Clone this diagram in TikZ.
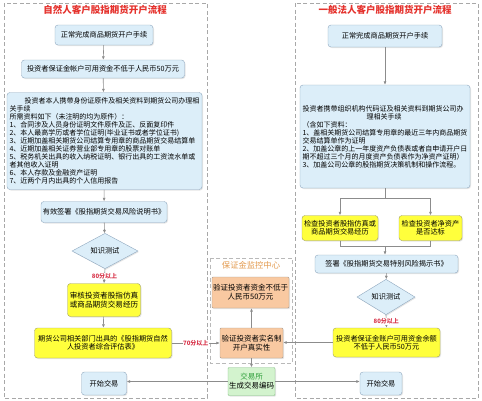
\documentclass[tikz,border=0pt]{standalone}
\usepackage{fontspec}
\setmainfont{Noto Sans CJK SC}
\usetikzlibrary{arrows.meta, shapes.geometric, shadows}

\definecolor{titlered}{HTML}{E5322D}
\definecolor{scorered}{HTML}{D8344A}
\definecolor{monorange}{HTML}{E39A4E}
\definecolor{bluefill}{HTML}{DCEEF9}
\definecolor{blueline}{HTML}{8FA8BF}
\definecolor{yellowfill}{HTML}{FFFF3C}
\definecolor{yellowline}{HTML}{A0A060}
\definecolor{orangefill}{HTML}{F9C9A1}
\definecolor{orangeline}{HTML}{A89A8C}
\definecolor{greenfill}{HTML}{D3F3CE}
\definecolor{greenline}{HTML}{86C086}
\definecolor{greentext}{HTML}{2E9E3A}
\definecolor{flowgray}{HTML}{8C8C8C}
\definecolor{panelgray}{HTML}{A8A8A8}

\begin{document}
\begin{tikzpicture}[
  x=1pt, y=-1pt,
  every node/.style={font=\fontsize{7.2}{8.2}\selectfont},
  box/.style={draw=blueline, fill=bluefill, rounded corners=3pt, align=center, inner sep=1pt, drop shadow={opacity=0.2, shadow xshift=1pt, shadow yshift=-1pt}},
  yellowbox/.style={box, draw=yellowline, fill=yellowfill},
  orangebox/.style={box, draw=orangeline, fill=orangefill, rounded corners=1pt},
  greenbox/.style={box, draw=greenline, fill=greenfill, rounded corners=1pt},
  test/.style={diamond, draw=blueline, fill=bluefill, inner sep=0pt, drop shadow={opacity=0.2, shadow xshift=1pt, shadow yshift=-1pt}},
  title/.style={font=\fontsize{9.5}{11}\selectfont\bfseries, text=titlered},
  score/.style={font=\fontsize{6}{7}\selectfont\bfseries, text=scorered, fill=white, inner sep=0.5pt},
  panel/.style={draw=panelgray, line width=1pt, dash pattern=on 4pt off 2.5pt},
  arrow/.style={-{Latex[length=3.5pt, width=3pt]}, flowgray, semithick},
  link/.style={flowgray, semithick}
]
  \useasboundingbox[fill=white] (0,0) rectangle (482,400);

  % panels
  \draw[panel] (4,3) rectangle (207,398);
  \draw[panel] (295,3) rectangle (478,398);
  \draw[panel, draw=panelgray!80, line width=0.8pt] (210,258) rectangle (292,363);

  % natural person
  \node[title] (ltitle) at (105,10) {自然人客户股指期货开户流程};
  \node[box, minimum width=98, minimum height=20] (l1) at (104,35) {正常完成商品期货开户手续};
  \node[box, minimum width=163, minimum height=18] (l2) at (103,69) {投资者保证金帐户可用资金不低于人民币50万元};
  \node[box, minimum width=195, minimum height=97, align=left, font=\fontsize{7}{8}\selectfont] (l3) at (104.5,141) {\hspace*{15pt}投资者本人携带身份证原件及相关资料到期货公司办理相\\关手续\\所需资料如下（未注明的均为原件）：\\1、合同涉及人员身份证明文件原件及正、反面复印件\\2、本人最高学历或者学位证明(毕业证书或者学位证书)\\3、近期加盖相关期货公司结算专用章的商品期货交易结算单\\4、近期加盖相关证券营业部专用章的股票对账单\\5、税务机关出具的收入纳税证明、银行出具的工资流水单或\\者其他收入证明\\6、本人存款及金融资产证明\\7、近两个月内出具的个人信用报告};
  \node[box, minimum width=126, minimum height=21] (l4) at (104,212) {有效签署《股指期货交易风险说明书》};
  \node[test, minimum width=66, minimum height=27] (ld) at (105,251) {知识测试};
  \node[yellowbox, minimum width=73, minimum height=33, font=\fontsize{7.6}{9}\selectfont] (ly1) at (104,300) {审核投资者股指仿真\\或商品期货交易经历};
  \node[yellowbox, minimum width=137, minimum height=30] (ly2) at (103,343) {期货公司相关部门出具的《股指期货自然\\人投资者综合评估表》};
  \node[box, minimum width=45, minimum height=23] (lstart) at (104,383.5) {开始交易};

  % legal person
  \node[title] (rtitle) at (385,10) {一般法人客户股指期货开户流程};
  \node[box, minimum width=114, minimum height=22] (r1) at (385,36) {正常完成商品期货开户手续};
  \node[box, minimum width=170, minimum height=103, align=left, font=\fontsize{7}{8}\selectfont] (r2) at (385,136.5) {投资者携带组织机构代码证及相关资料到期货公司办\\\hspace*{64pt}理相关手续\\（含如下资料：\\1、盖相关期货公司结算专用章的最近三年内商品期货\\交易结算单作为证明\\2、加盖公章的上一年度资产负债表或者自申请开户日\\期不超过三个月的月度资产负债表作为净资产证明）\\3、加盖公司公章的股指期货决策机制和操作流程。};
  \coordinate (rsplit) at (385,198);
  \node[yellowbox, minimum width=76, minimum height=25] (r3) at (340,228) {检查投资者股指仿真或\\商品期货交易经历};
  \node[yellowbox, minimum width=63, minimum height=25] (r4) at (430.5,228) {检查投资者净资产\\是否达标};
  \coordinate (rmerge) at (385,246);
  \node[box, minimum width=143, minimum height=18] (r5) at (386.5,264) {签署《股指期货交易特别风险揭示书》};
  \node[test, minimum width=58, minimum height=22] (rd) at (386,297) {知识测试};
  \node[yellowbox, minimum width=107, minimum height=29] (r6) at (386.5,342.5) {投资者保证金账户可用资金余额\\不低于人民币50万元};
  \node[box, minimum width=42, minimum height=23] (rstart) at (381,383.5) {开始交易};

  % monitoring centre and exchange
  \node[font=\fontsize{8.3}{10}\selectfont, text=monorange] (mtitle) at (251,265.5) {保证金监控中心};
  \node[orangebox, minimum width=75, minimum height=31, font=\fontsize{7.5}{9}\selectfont] (m1) at (250.5,292.5) {验证投资者资金不低于\\人民币50万元};
  \node[orangebox, minimum width=63, minimum height=30, font=\fontsize{7.5}{9}\selectfont] (m2) at (251.5,343) {验证投资者实名制\\开户真实性};
  \node[greenbox, minimum width=47, minimum height=28, font=\fontsize{7.5}{9}\selectfont] (mx) at (251.5,381.5) {\textcolor{greentext}{交易所}\\生成交易编码};

  % left flow
  \draw[arrow] (l1) -- (l2);
  \draw[arrow] (l2) -- (l3);
  \draw[arrow] (l3) -- (l4);
  \draw[arrow] (l4) -- (ld);
  \draw[arrow] (ld.south) -- node[score] {80分以上} (ly1.north);
  \draw[arrow] (ly1) -- (ly2);
  \draw[arrow] (ly2.east) -- node[score] {70分以上} (ly2.east -| m2.west);

  % right flow
  \draw[arrow] (r1) -- (r2);
  \draw[link] (r2.south) -- (rsplit);
  \draw[arrow] (rsplit) -| (r3.north);
  \draw[arrow] (rsplit) -| (r4.north);
  \draw[link] (r3.south) |- (rmerge);
  \draw[link] (r4.south) |- (rmerge);
  \draw[arrow] (rmerge) -- (rmerge |- r5.north);
  \draw[arrow] (r5) -- (rd);
  \draw[arrow] (rd.south) -- node[score] {80分以上} (r6.north);
  \draw[arrow] (r6.west) -- (r6.west -| m2.east);

  % middle
  \draw[arrow] (m2.north) -- (m2.north |- m1.south);
  \draw[arrow] (m2.south) -- (m2.south |- mx.north);
  \draw[arrow] (mx.west) -- (mx.west -| lstart.east);
  \draw[arrow] (mx.east) -- (mx.east -| rstart.west);
\end{tikzpicture}
\end{document}
